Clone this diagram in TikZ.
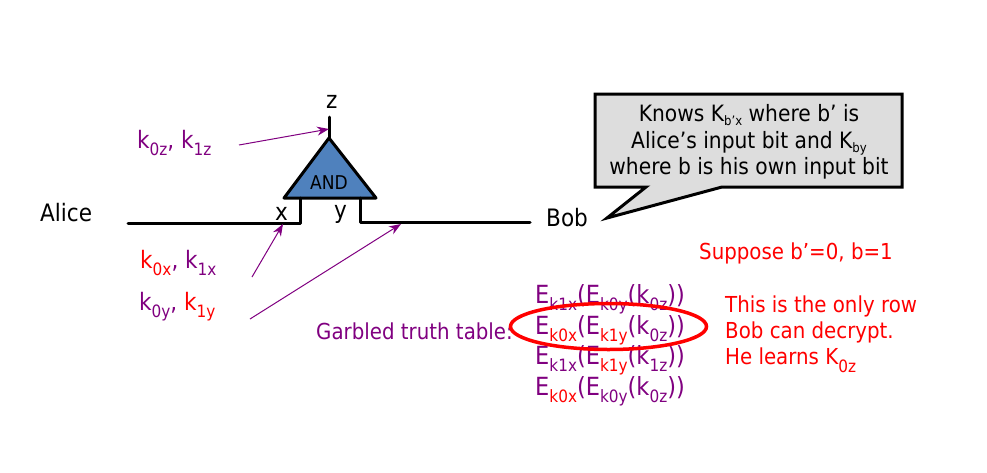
\documentclass[tikz,border=0pt]{standalone}
\usepackage{fontspec}
\setmainfont{DejaVu Sans}[FakeStretch=0.9]
\usetikzlibrary{arrows.meta,positioning,shapes.geometric}
\definecolor{Plum}{HTML}{800080}
\definecolor{GateBlue}{HTML}{4F81BD}
\definecolor{BubbleGray}{HTML}{DDDDDD}
\newcommand{\lowtext}[1]{\raisebox{-7.5pt}{\fontsize{17}{17}\selectfont #1}}
\newcommand{\tinylow}[1]{\raisebox{-4pt}{\fontsize{13}{13}\selectfont #1}}
\newcommand{\pk}[1]{\textcolor{Plum}{#1}}
\newcommand{\rk}[1]{\textcolor{red}{#1}}
\begin{document}
\begin{tikzpicture}[x=1pt,y=-1pt,
  wire/.style={line width=3pt, line cap=round, line join=round},
  hint/.style={draw=Plum, line width=1pt, -{Stealth[length=12pt,width=9pt]}},
  lbl/.style={anchor=base west, inner sep=0pt, font=\fontsize{24}{24}\selectfont},
  note/.style={lbl, text=red, font=\fontsize{22}{26}\selectfont},
  row/.style={lbl, text=Plum, font=\fontsize{25}{25}\selectfont}]
  \useasboundingbox (0,0) rectangle (987,472);
  % gate and wires
  \coordinate (apex) at (329,138);
  \coordinate (zend) at (329,117);
  \coordinate (zhit) at (329,129);
  \coordinate (xtop) at (300,198);
  \coordinate (ytop) at (360,198);
  \draw[wire, fill=GateBlue] (apex) -- (284,198) -- (376,198) -- cycle;
  \draw[wire] (apex) -- (zend);
  \draw[wire] (128,223) -- (300,223) -- (xtop);
  \draw[wire] (ytop) -- (360,222) -- (530,222);
  \node[inner sep=0pt, font=\fontsize{19}{19}\selectfont] (gate) at (329,183) {AND};
  \node[lbl] (zlabel) at (326,108) {z};
  \node[lbl] (xlabel) at (275,220) {x};
  \node[lbl] (ylabel) at (334,218) {y};
  \node[lbl] (alice) at (40,221) {Alice};
  \node[lbl] (bob) at (546,226) {Bob};
  % key labels
  \node[lbl] (kz) at (137,148) {\pk{k\lowtext{0z}, k\lowtext{1z}}};
  \node[lbl] (kx) at (140,268) {\rk{k\lowtext{0x}}\pk{, k\lowtext{1x}}};
  \node[lbl] (ky) at (139,310) {\pk{k\lowtext{0y}, }\rk{k\lowtext{1y}}};
  \coordinate (kzout) at (239,145);
  \coordinate (kxout) at (252,277);
  \coordinate (kyout) at (250,319);
  \coordinate (xhit) at (283,224);
  \coordinate (yhit) at (401,224);
  \draw[hint] (kzout) -- (zhit);
  \draw[hint] (kxout) -- (xhit);
  \draw[hint] (kyout) -- (yhit);
  % speech bubble
  \draw[line width=3pt, fill=BubbleGray, line join=miter]
    (595,94) -- (902,94) -- (902,187) -- (722,187) -- (607,218) -- (646,187) -- (595,187) -- cycle;
  \node[align=center, inner sep=0pt, font=\fontsize{22.5}{26.5}\selectfont] (knows) at (749,142)
    {Knows K\tinylow{b’x} where b’ is\\Alice’s input bit and K\tinylow{by}\\where b is his own input bit};
  % table
  \node[note, text=Plum] (garbled) at (316,339) {Garbled truth table:};
  \node[row] (row1) at (535,303) {E\lowtext{k1x}(E\lowtext{k0y}(k\lowtext{0z}))};
  \node[row] (row2) at (535,334) {E\rk{\lowtext{k0x}}(E\rk{\lowtext{k1y}}(k\lowtext{0z}))};
  \node[row] (row3) at (535,364) {E\lowtext{k1x}(E\rk{\lowtext{k1y}}(k\lowtext{1z}))};
  \node[row] (row4) at (535,395) {E\rk{\lowtext{k0x}}(E\lowtext{k0y}(k\lowtext{0z}))};
  \node[draw=red, line width=3.5pt, ellipse, inner sep=0pt, minimum width=196pt, minimum height=46pt] (pick) at (608.5,326.5) {};
  % comments on the right
  \node[note] (suppose) at (699,259) {Suppose b’=0, b=1};
  \node[note, align=left, anchor=north west] (only) at (725,296)
    {This is the only row\\Bob can decrypt.\\He learns K\lowtext{0z}};
\end{tikzpicture}
\end{document}
